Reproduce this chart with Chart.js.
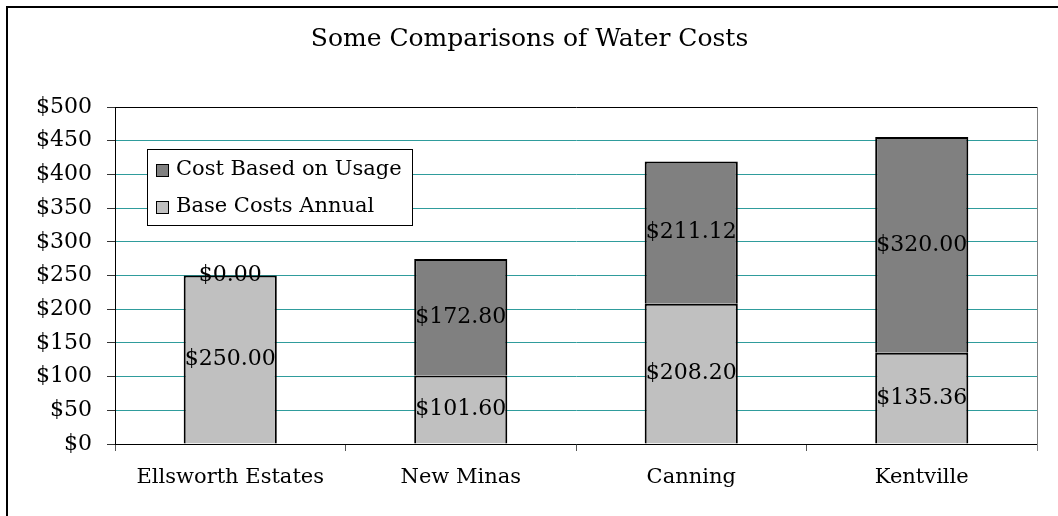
<!DOCTYPE html>
<html>
<head>
<meta charset="utf-8">
<script src="https://cdn.jsdelivr.net/npm/chart.js@4.4.1/dist/chart.umd.min.js"></script>
<style>
  html, body { margin: 0; padding: 0; background: #fff; }
  #wrap { width: 1058px; height: 516px; position: relative; }
</style>
</head>
<body>
<div id="wrap"><canvas id="waterChart"></canvas></div>
<script>
const towns = ['Ellsworth Estates', 'New Minas', 'Canning', 'Kentville'];
const baseCosts = [250.00, 101.60, 208.20, 135.36];
const usageCosts = [0.00, 172.80, 211.12, 320.00];
const yTicks = [0, 50, 100, 150, 200, 250, 300, 350, 400, 450, 500];

const serif = 'DejaVu Serif';
const teal = '#2f9c9c';

// outer frame of the chart object
const framePlugin = {
    id: 'frame',
    beforeDraw(chart) {
        const c = chart.ctx;
        c.save();
        c.fillStyle = '#fff';
        c.fillRect(0, 0, chart.width, chart.height);
        c.strokeStyle = '#000';
        c.lineWidth = 2;
        c.strokeRect(7, 7, chart.width + 20, chart.height + 20);
        c.restore();
    },
    afterDraw(chart) {
        const a = chart.chartArea;
        const c = chart.ctx;
        c.save();
        c.strokeStyle = '#808080';
        c.lineWidth = 1;
        c.beginPath();
        c.moveTo(a.right + 0.5, a.top);
        c.lineTo(a.right + 0.5, a.bottom + 7);
        c.stroke();
        c.restore();
    }
};

// value labels in the middle of each segment
const valueLabels = {
    id: 'valueLabels',
    afterDatasetsDraw(chart) {
        const c = chart.ctx;
        c.save();
        c.font = '22px "' + serif + '"';
        c.fillStyle = '#000';
        c.textAlign = 'center';
        c.textBaseline = 'middle';
        chart.data.datasets.forEach((ds, i) => {
            chart.getDatasetMeta(i).data.forEach((bar, j) => {
                const p = bar.getProps(['x', 'y', 'base'], true);
                c.fillText('$' + ds.data[j].toFixed(2), p.x, (p.y + p.base) / 2);
            });
        });
        c.restore();
    }
};

// legend box sitting inside the plot area
const boxLegend = {
    id: 'boxLegend',
    afterDraw(chart) {
        const a = chart.chartArea;
        const c = chart.ctx;
        const x = a.left + 32, y = a.top + 42, w = 265, h = 76;
        c.save();
        c.fillStyle = '#fff';
        c.fillRect(x, y, w, h);
        c.strokeStyle = '#000';
        c.lineWidth = 1;
        c.strokeRect(x + 0.5, y + 0.5, w, h);
        c.font = '21px "' + serif + '"';
        c.textBaseline = 'middle';
        const items = chart.data.datasets.slice().reverse();
        items.forEach((ds, k) => {
            const cy = y + 21 + k * 37;
            c.fillStyle = ds.backgroundColor;
            c.fillRect(x + 9, cy - 6, 12, 12);
            c.strokeStyle = '#000';
            c.strokeRect(x + 9.5, cy - 5.5, 12, 12);
            c.fillStyle = '#000';
            c.fillText(ds.label, x + 29, cy);
        });
        c.restore();
    }
};

new Chart(document.getElementById('waterChart'), {
    type: 'bar',
    data: {
        labels: towns,
        datasets: [
            {
                label: 'Base Costs Annual',
                data: baseCosts,
                backgroundColor: '#c0c0c0',
                borderColor: '#000',
                borderWidth: 2
            },
            {
                label: 'Cost Based on Usage',
                data: usageCosts,
                backgroundColor: '#808080',
                borderColor: '#000',
                borderWidth: 2
            }
        ]
    },
    options: {
        responsive: true,
        maintainAspectRatio: false,
        animation: false,
        layout: { padding: { left: 22, right: 21, top: 0, bottom: 0 } },
        datasets: { bar: { categoryPercentage: 1, barPercentage: 0.404 } },
        plugins: {
            legend: { display: false },
            tooltip: { enabled: false },
            title: {
                display: true,
                text: 'Some Comparisons of Water Costs',
                color: '#000',
                font: { family: serif, size: 25, weight: 'normal', lineHeight: 1.2 },
                padding: { top: 24, bottom: 53 }
            }
        },
        scales: {
            x: {
                stacked: true,
                grid: { drawOnChartArea: false, tickLength: 7, tickColor: '#555' },
                border: { color: '#000', width: 1 },
                ticks: { color: '#000', font: { family: serif, size: 21 }, padding: 14 },
                afterFit(s) { s.height = 72; }
            },
            y: {
                stacked: true,
                min: 0,
                max: 500,
                afterBuildTicks(s) { s.ticks = yTicks.map(v => ({ value: v })); },
                grid: {
                    color: ctx => ctx.index === yTicks.length - 1 ? '#000' : teal,
                    lineWidth: 1,
                    tickLength: 8,
                    tickColor: '#333'
                },
                border: { color: '#000', width: 1 },
                ticks: {
                    color: '#000',
                    font: { family: serif, size: 22 },
                    padding: 15,
                    callback: v => '$' + v
                },
                afterFit(s) { s.width = 93; }
            }
        }
    },
    plugins: [framePlugin, valueLabels, boxLegend]
});
</script>
</body>
</html>
